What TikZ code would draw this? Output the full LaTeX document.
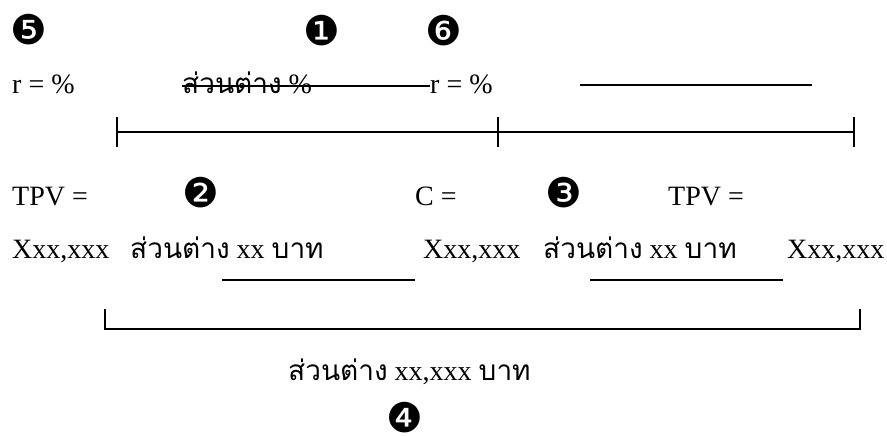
\documentclass[tikz,border=0pt]{standalone}
\usepackage{fontspec}
\setmainfont{Liberation Serif}
\newfontfamily\thaifont[Script=Thai]{Loma}
\newfontfamily\dingfont{DejaVu Sans}
\usetikzlibrary{positioning}

\begin{document}
\begin{tikzpicture}[
  x=1pt, y=-1pt,
  lbl/.style={inner sep=0pt, anchor=base west, font=\fontsize{28}{30}\selectfont},
  num/.style={inner sep=0pt, font=\dingfont\fontsize{41}{44}\selectfont},
  bar/.style={line width=1.6pt},
  rule/.style={line width=1.4pt},
]
  \useasboundingbox (0,0) rectangle (887,436);

  % top row: rates
  \node[num] (n5) at (29,30) {❺};
  \node[num] (n1) at (322,31) {❶};
  \node[num] (n6) at (444,31) {❻};
  \node[lbl] (r1) at (12,94) {r = \%};
  \node[lbl] (dp) at (182,94) {{\thaifont ส่วนต่าง} \%};
  \node[lbl] (r2) at (430,94) {r = \%};
  \coordinate (k1) at (182,86);
  \coordinate (k2) at (580,85);
  \coordinate (k3) at (812,85);
  \draw[rule] (k1) -- (k1 -| r2.west);
  \draw[rule] (k2) -- (k3);

  % time line
  \coordinate (t0) at (117,132);
  \coordinate (t1) at (498,132);
  \coordinate (t2) at (854,132);
  \draw[bar] (t0) -- (t2);
  \foreach \t in {t0,t1,t2}
    \draw[bar] ([yshift=15pt]\t) -- ([yshift=-15pt]\t);

  % values
  \node[lbl] (tpv1) at (12,205) {TPV =};
  \node[num] (n2) at (201,193) {❷};
  \node[lbl] (c) at (415,205) {C =};
  \node[num] (n3) at (564,193) {❸};
  \node[lbl] (tpv2) at (668,205) {TPV =};

  \node[lbl] (x1) at (12,258) {Xxx,xxx};
  \node[lbl] (d1) at (130,258) {{\thaifont ส่วนต่าง} xx {\thaifont บาท}};
  \node[lbl] (x2) at (423,258) {Xxx,xxx};
  \node[lbl] (d2) at (543,258) {{\thaifont ส่วนต่าง} xx {\thaifont บาท}};
  \node[lbl] (x3) at (787,258) {Xxx,xxx};
  \coordinate (u1) at (222,280);
  \coordinate (u2) at (415,280);
  \coordinate (u3) at (590,280);
  \coordinate (u4) at (783,280);
  \draw[rule] (u1) -- (u2);
  \draw[rule] (u3) -- (u4);

  % total
  \coordinate (b0) at (105,309);
  \coordinate (b1) at (860,309);
  \draw[bar] (b0) -- ++(0,20) -| (b1);
  \node[lbl] (tot) at (288,380) {{\thaifont ส่วนต่าง} xx,xxx {\thaifont บาท}};
  \node[num] (n4) at (405,418) {❹};
\end{tikzpicture}
\end{document}
